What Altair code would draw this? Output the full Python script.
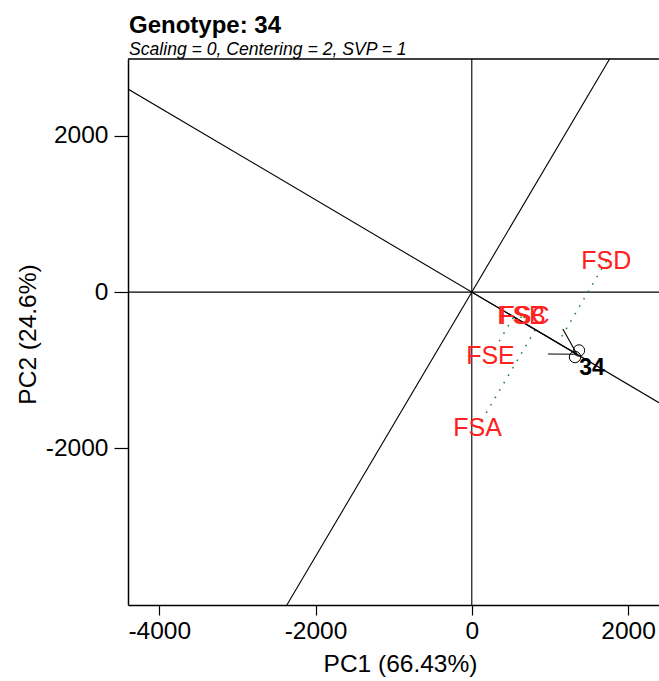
import altair as alt
import pandas as pd
import numpy as np

# ---- data ----
env_names = ["FSA", "FSB", "FSC", "FSD", "FSE"]
env_pc1 = [73, 636, 674, 1722, 239]
env_pc2 = [-1735, -312, -312, 398, -818]

gen_name = "34"
gen_pc1 = 1347
gen_pc2 = -796

marker_pc1 = [1372, 1321]
marker_pc2 = [-747, -831]

label_pc1 = [1538]
label_pc2 = [-968]

x_ticks = [-4000, -2000, 0, 2000]
y_ticks = [-2000, 0, 2000]
x_domain = [-4400, 2396]
y_domain = [-4005, 2984]

FONT = "Liberation Sans, Arial, sans-serif"

# ---- derived geometry ----
g = np.array([gen_pc1, gen_pc2], dtype=float)
u = g / np.linalg.norm(g)
m = gen_pc2 / gen_pc1
mp = -gen_pc1 / gen_pc2  # perpendicular slope

lines = pd.DataFrame({
    "x": [x_domain[0], 0, x_domain[0], y_domain[0] / mp],
    "y": [0, y_domain[0], m * x_domain[0], y_domain[0]],
    "x2": [x_domain[1], 0, x_domain[1], y_domain[1] / mp],
    "y2": [0, y_domain[1], m * x_domain[1], y_domain[1]],
})

proj = []
for n, a, b in zip(env_names, env_pc1, env_pc2):
    t = a * u[0] + b * u[1]
    proj.append({"x": a, "y": b, "x2": t * u[0], "y2": t * u[1]})
proj = pd.DataFrame(proj)

L = 371.0
back = np.arctan2(-gen_pc2, -gen_pc1)
arrow = pd.DataFrame({
    "x": [0, gen_pc1, gen_pc1],
    "y": [0, gen_pc2, gen_pc2],
    "x2": [gen_pc1, gen_pc1 + L * np.cos(back + np.pi / 6), gen_pc1 + L * np.cos(back - np.pi / 6)],
    "y2": [gen_pc2, gen_pc2 + L * np.sin(back + np.pi / 6), gen_pc2 + L * np.sin(back - np.pi / 6)],
})

envs = pd.DataFrame({"name": env_names, "x": env_pc1, "y": env_pc2})
markers = pd.DataFrame({"x": marker_pc1, "y": marker_pc2})
glabel = pd.DataFrame({"name": [gen_name], "x": label_pc1, "y": label_pc2})

xs = alt.Scale(domain=x_domain, nice=False, zero=False)
ys = alt.Scale(domain=y_domain, nice=False, zero=False)

LABEL_EXPR = "'' + datum.value"

xaxis = alt.Axis(values=x_ticks, labelExpr=LABEL_EXPR, grid=False, tickSize=10, tickColor="black",
                 tickWidth=1.2, domainColor="black", domainWidth=1.5, labelFont=FONT,
                 labelFontSize=24.5, labelColor="black", labelPadding=4, labelOverlap=False,
                 labelFlush=False, labelBound=False,
                 titleFont=FONT, titleFontSize=24.5, titleFontWeight="normal", titleColor="black",
                 titleX=272, titleY=59, titleBaseline="middle", titleAlign="center")
yaxis = alt.Axis(values=y_ticks, labelExpr=LABEL_EXPR, grid=False, tickSize=14, tickColor="black",
                 tickWidth=1.2, domainColor="black", domainWidth=1.5, labelFont=FONT,
                 labelFontSize=24.5, labelColor="black", labelPadding=6, labelOverlap=False,
                 labelFlush=False,
                 titleFont=FONT, titleFontSize=24.5, titleFontWeight="normal", titleColor="black",
                 titleX=-100, titleY=275, titleBaseline="middle", titleAlign="center", titleAngle=-90)


def X(f):
    return alt.X(f"{f}:Q", scale=xs, axis=xaxis, title="PC1 (66.43%)")


def Y(f):
    return alt.Y(f"{f}:Q", scale=ys, axis=yaxis, title="PC2 (24.6%)")


base_lines = alt.Chart(lines).mark_rule(color="black", strokeWidth=1.1, clip=True).encode(
    x=X("x"), y=Y("y"), x2="x2", y2="y2")

proj_lines = alt.Chart(proj).mark_rule(color="#2e8b2e", strokeWidth=1.6, strokeDash=[1.6, 7],
                                       clip=True).encode(x=X("x"), y=Y("y"), x2="x2", y2="y2")

arrow_lines = alt.Chart(arrow).mark_rule(color="black", strokeWidth=1.1, clip=True).encode(
    x=X("x"), y=Y("y"), x2="x2", y2="y2")

circles = alt.Chart(markers).mark_point(shape="circle", size=130, color="black", filled=False,
                                        strokeWidth=1, opacity=1).encode(x=X("x"), y=Y("y"))

env_text = alt.Chart(envs).mark_text(font=FONT, fontSize=25, color="#ff2020", align="center",
                                     baseline="middle").encode(x=X("x"), y=Y("y"), text="name:N")

gen_text = alt.Chart(glabel).mark_text(font=FONT, fontSize=23, fontWeight="bold", color="black",
                                       align="center", baseline="middle").encode(
    x=X("x"), y=Y("y"), text="name:N")

frame_top = alt.Chart(lines.head(1)).mark_rule(color="black", strokeWidth=1.5).encode(
    x=alt.value(0), x2=alt.value(531), y=alt.value(0))

chart = alt.layer(base_lines, proj_lines, arrow_lines, circles, env_text, gen_text, frame_top).properties(
    width=531, height=546,
    autosize=alt.AutoSizeParams(type="none"),
    padding={"left": 128, "top": 59, "right": 0, "bottom": 76},
    title=alt.Title(text="Genotype: 34", subtitle="Scaling = 0, Centering = 2, SVP = 1",
                    anchor="start", frame="group", font=FONT, fontSize=24, fontWeight="bold",
                    color="black", subtitleFont=FONT, subtitleFontSize=17.6,
                    subtitleFontStyle="italic", subtitleColor="black", offset=0,
                    subtitlePadding=3, dx=1),
).configure_view(stroke=None)

chart.save("out.html", embed_options={"renderer": "svg", "actions": False})
